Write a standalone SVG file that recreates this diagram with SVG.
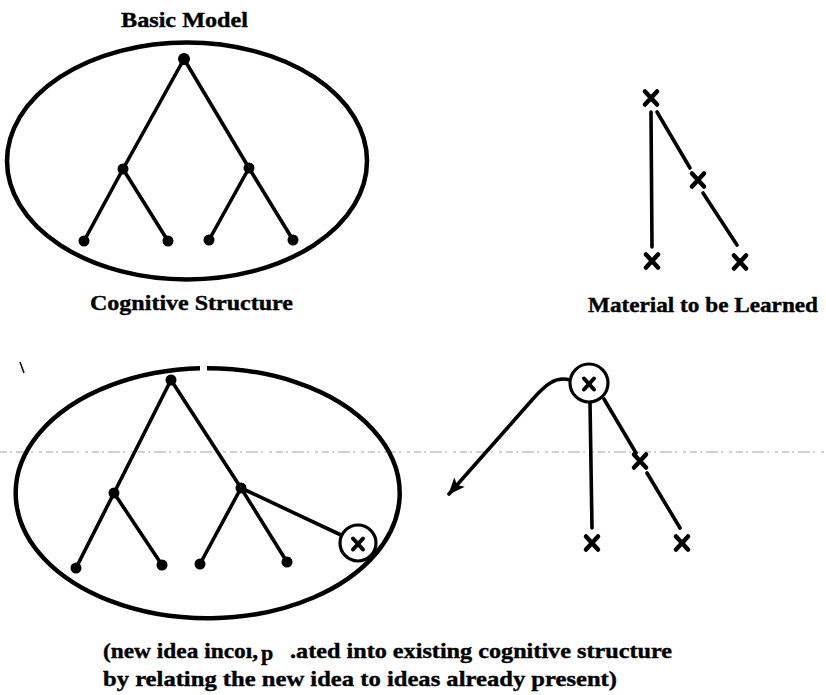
<svg xmlns="http://www.w3.org/2000/svg" width="826" height="695" viewBox="0 0 826 695">
<style>
.t{font-family:"Liberation Serif","Times New Roman",serif;font-weight:bold;font-size:22px;fill:#000;stroke:#000;stroke-width:0.4}
.e{fill:none;stroke:#000;stroke-width:4.5}
.c{fill:none;stroke:#000;stroke-width:3.6;stroke-linecap:round}
.d{fill:#000}
.x{fill:none;stroke:#000;stroke-width:4.5;stroke-linecap:round}
.o{fill:#fff;stroke:#000;stroke-width:3.2}
</style>
<defs>
<symbol id="xm" overflow="visible"><path class="x" d="M-6,-6.5 L6,6.5 M6,-6.5 L-6,6.5"/></symbol>
<symbol id="xs" overflow="visible"><path class="x" d="M-5,-5.5 L5,5.5 M5,-5.5 L-5,5.5" style="stroke-width:4"/></symbol>
<marker id="ah" markerUnits="userSpaceOnUse" markerWidth="20" markerHeight="16" refX="16" refY="7" orient="auto"><path d="M0,0 L17,7 L0,14 L4,7 Z" fill="#000"/></marker>
</defs>
<rect width="826" height="695" fill="#fff"/>

<!-- scan artifact line -->
<path d="M0,452 H826" stroke="#666" stroke-width="1.2" stroke-dasharray="7 3 2 4 12 3 2 6 3 4" opacity="0.6"/>
<path d="M20,362 L24,373" stroke="#000" stroke-width="1.5"/>

<g id="labels">
<text class="t" x="121" y="27" font-size="21" textLength="127" lengthAdjust="spacingAndGlyphs">Basic Model</text>
<text class="t" x="90" y="310" textLength="203" lengthAdjust="spacingAndGlyphs">Cognitive Structure</text>
<text class="t" x="588" y="312" textLength="230" lengthAdjust="spacingAndGlyphs">Material to be Learned</text>
<text class="t" x="103" y="658" textLength="155" lengthAdjust="spacingAndGlyphs">(new idea incoı,</text>
<text class="t" x="261" y="660" font-size="11">p</text>
<text class="t" x="290" y="658" textLength="382" lengthAdjust="spacingAndGlyphs">.ated into existing cognitive structure</text>
<text class="t" x="103" y="686" textLength="514" lengthAdjust="spacingAndGlyphs">by relating the new idea to ideas already present)</text>
</g>

<g id="ellipse-top"><ellipse class="e" cx="187" cy="161" rx="180" ry="118.5"/></g>
<g id="ellipse-bottom"><path class="e" d="M207,368.2 A192,125 0 1 1 200,368.3"/></g>

<g id="connectors">
<path class="c" d="M184,59 L123,169 M184,59 L249,168 M123,169 L84,241 M123,169 L168,241 M249,168 L209,240 M249,168 L293,240"/>
<path class="c" d="M651,112 L652,247 M657,112 L690,168 M703,193 L737,245"/>
<path class="c" d="M171,380 L114,493 M171,380 L241,488 M114,493 L76,568 M114,493 L162,565 M241,488 L200,564 M241,488 L287,562 M241,488 L341,535"/>
<path class="c" d="M590,402 L592,528 M604,399 L636,453 M647,473 L680,528"/>
<path class="c" d="M570,380 C556,376 546,384 532,400 L449,494" marker-end="url(#ah)"/>
</g>

<g id="n-root"><circle class="d" cx="184" cy="59" r="6"/></g>
<g id="n-l"><circle class="d" cx="123" cy="169" r="5.5"/></g>
<g id="n-r"><circle class="d" cx="249" cy="168" r="5.5"/></g>
<g id="n-ll"><circle class="d" cx="84" cy="241" r="5.5"/></g>
<g id="n-lr"><circle class="d" cx="168" cy="241" r="5.5"/></g>
<g id="n-rl"><circle class="d" cx="209" cy="240" r="5.5"/></g>
<g id="n-rr"><circle class="d" cx="293" cy="240" r="5.5"/></g>

<g id="m-top"><use href="#xm" x="651" y="98"/></g>
<g id="m-mid"><use href="#xm" x="698" y="180"/></g>
<g id="m-bl"><use href="#xm" x="652" y="261"/></g>
<g id="m-br"><use href="#xm" x="740" y="262"/></g>

<g id="b-root"><circle class="d" cx="171" cy="380" r="5.5"/></g>
<g id="b-l"><circle class="d" cx="114" cy="493" r="5.5"/></g>
<g id="b-r"><circle class="d" cx="241" cy="488" r="5.5"/></g>
<g id="b-ll"><circle class="d" cx="76" cy="568" r="5.5"/></g>
<g id="b-lr"><circle class="d" cx="162" cy="565" r="5.5"/></g>
<g id="b-rl"><circle class="d" cx="200" cy="564" r="5.5"/></g>
<g id="b-rr"><circle class="d" cx="287" cy="562" r="5.5"/></g>
<g id="b-new"><circle class="o" cx="358" cy="543" r="18"/><use href="#xs" x="358" y="544"/></g>

<g id="bm-top"><circle class="o" cx="589" cy="383" r="19"/><use href="#xs" x="589" y="384"/></g>
<g id="bm-mid"><use href="#xm" x="640" y="461"/></g>
<g id="bm-bl"><use href="#xm" x="592" y="543"/></g>
<g id="bm-br"><use href="#xm" x="682" y="543"/></g>
</svg>
